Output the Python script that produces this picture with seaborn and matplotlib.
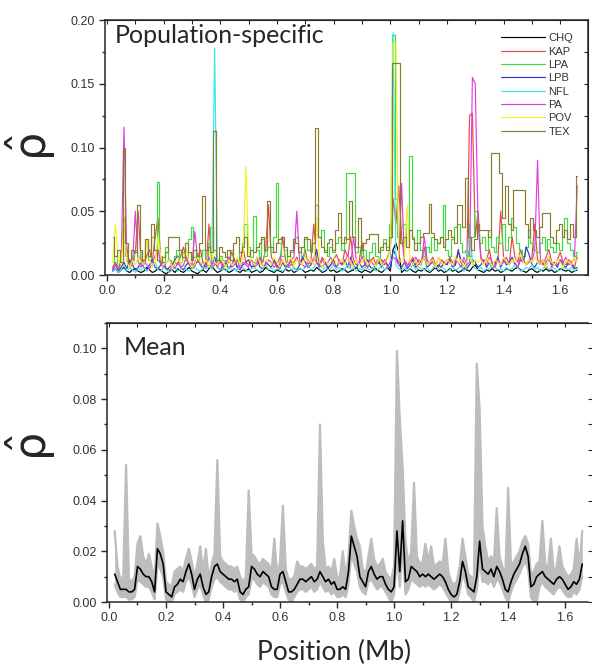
import numpy as np
import pandas as pd
import matplotlib
matplotlib.use("Agg")
import matplotlib.pyplot as plt
import seaborn as sns
from matplotlib.ticker import MultipleLocator, FormatStrFormatter

# positions along the region (Mb), one value every 10 kb
positions = np.round(np.arange(165) * 0.01 + 0.02, 2)

populations = ["CHQ", "KAP", "LPA", "LPB", "NFL", "PA", "POV", "TEX"]
pop_colors = ["#000000", "#e8474a", "#3fdc3f", "#3a3ac8", "#3fe6e6", "#e03fe0", "#f2f21e", "#8b7b2e"]
# populations whose traces look blocky (plateaus) in the figure
stepped = ["LPA", "TEX"]

# population-specific rho in units of 0.001
chq = [3, 5, 2, 4, 6, 3, 2, 4, 5, 3, 2, 3, 6, 4, 2, 3, 5, 4, 2, 1,
       3, 4, 2, 5, 3, 2, 4, 6, 3, 2, 1, 3, 4, 2, 5, 7, 4, 2, 3, 5,
       4, 2, 3, 5, 3, 2, 4, 3, 5, 2, 3, 4, 2, 3, 6, 4, 3, 2, 4, 3,
       2, 5, 3, 4, 2, 3, 5, 4, 2, 3, 4, 3, 6, 4, 2, 3, 5, 3, 4, 2,
       3, 5, 4, 2, 3, 4, 6, 3, 2, 4, 3, 2, 4, 5, 3, 2, 4, 6, 3, 20,
       25, 18, 2, 4, 3, 5, 3, 2, 4, 3, 5, 3, 2, 4, 6, 3, 4, 2, 3, 5,
       3, 4, 2, 3, 5, 4, 3, 6, 8, 4, 3, 2, 4, 3, 5, 3, 4, 2, 3, 5,
       4, 3, 5, 6, 4, 3, 2, 4, 5, 3, 2, 4, 3, 5, 3, 4, 2, 3, 5, 4,
       3, 4, 2, 3, 4]
kap = [6, 10, 4, 14, 45, 22, 8, 10, 18, 50, 12, 8, 15, 20, 10, 30, 45, 12, 8, 5,
       4, 6, 10, 8, 15, 22, 12, 8, 6, 10, 14, 20, 8, 6, 40, 6, 8, 12, 10, 6,
       8, 10, 18, 12, 6, 10, 22, 10, 8, 12, 6, 8, 14, 10, 20, 55, 14, 10, 6, 8,
       30, 12, 6, 8, 10, 14, 8, 12, 20, 8, 12, 40, 10, 8, 14, 10, 6, 8, 12, 16,
       10, 8, 20, 14, 30, 12, 8, 10, 26, 8, 6, 10, 14, 8, 10, 12, 8, 14, 20, 60,
       40, 70, 30, 12, 8, 10, 14, 8, 12, 10, 22, 8, 10, 14, 8, 6, 12, 10, 8, 14,
       10, 8, 18, 12, 10, 6, 125, 127, 30, 50, 14, 10, 12, 20, 8, 10, 12, 50, 14, 10,
       8, 30, 14, 10, 20, 12, 8, 10, 14, 40, 12, 10, 8, 14, 20, 10, 8, 12, 18, 10,
       8, 12, 10, 6, 14]
lpa = [10, 15, 8, 20, 45, 15, 10, 12, 20, 14, 18, 10, 25, 12, 30, 20, 73, 15, 10, 22,
       12, 8, 15, 20, 10, 18, 12, 28, 38, 14, 10, 15, 20, 12, 25, 38, 20, 10, 15, 12,
       8, 14, 20, 10, 12, 18, 25, 40, 22, 14, 46, 20, 12, 28, 15, 22, 18, 30, 72, 25,
       15, 20, 10, 18, 25, 30, 22, 15, 28, 20, 18, 25, 55, 30, 35, 20, 15, 22, 18, 25,
       30, 20, 25, 80, 80, 80, 18, 22, 15, 20, 12, 18, 25, 15, 10, 20, 28, 22, 40, 188,
       60, 30, 25, 40, 22, 93, 30, 25, 35, 20, 15, 22, 18, 30, 20, 25, 30, 55, 20, 15,
       28, 38, 40, 25, 18, 20, 15, 30, 50, 40, 25, 30, 20, 35, 22, 18, 30, 25, 40, 20,
       30, 45, 38, 25, 20, 15, 22, 35, 25, 20, 18, 25, 30, 20, 28, 22, 18, 25, 20, 30,
       45, 25, 20, 15, 18]
lpb = [4, 8, 3, 6, 10, 5, 12, 8, 4, 6, 10, 6, 4, 8, 12, 6, 5, 8, 10, 4,
       6, 8, 12, 15, 6, 4, 8, 10, 5, 7, 12, 8, 5, 10, 6, 8, 14, 6, 4, 8,
       10, 5, 8, 12, 6, 4, 8, 10, 12, 6, 8, 14, 6, 5, 10, 8, 6, 12, 8, 5,
       10, 6, 8, 12, 5, 4, 8, 14, 10, 6, 8, 12, 20, 8, 6, 10, 5, 8, 12, 6,
       10, 8, 12, 6, 14, 8, 5, 10, 6, 8, 12, 6, 5, 8, 10, 6, 12, 8, 5, 20,
       15, 8, 6, 10, 5, 8, 12, 6, 8, 10, 14, 6, 8, 12, 5, 8, 6, 10, 8, 12,
       6, 8, 20, 10, 6, 5, 8, 12, 10, 6, 8, 12, 6, 10, 5, 8, 14, 6, 12, 8,
       10, 14, 8, 6, 12, 10, 22, 16, 8, 6, 10, 8, 12, 6, 14, 8, 10, 6, 12, 8,
       6, 10, 8, 5, 6]
nfl = [3, 5, 2, 4, 8, 3, 6, 4, 2, 5, 4, 6, 3, 5, 8, 10, 4, 3, 6, 4,
       2, 4, 6, 3, 5, 8, 4, 3, 5, 6, 4, 3, 6, 5, 8, 4, 178, 6, 4, 5,
       3, 6, 4, 5, 3, 8, 6, 4, 3, 5, 6, 4, 3, 5, 8, 4, 6, 3, 5, 4,
       3, 5, 8, 4, 6, 3, 5, 4, 6, 8, 4, 6, 10, 5, 3, 6, 4, 5, 8, 4,
       6, 3, 5, 8, 4, 6, 3, 5, 4, 6, 5, 4, 6, 3, 5, 8, 4, 6, 10, 190,
       8, 5, 4, 6, 3, 5, 8, 4, 6, 5, 4, 6, 3, 5, 8, 4, 6, 5, 3, 4,
       6, 4, 5, 8, 3, 6, 40, 10, 5, 4, 6, 3, 5, 4, 8, 6, 4, 5, 3, 6,
       4, 5, 8, 6, 3, 4, 6, 5, 8, 4, 6, 3, 5, 8, 4, 6, 5, 3, 4, 6,
       5, 4, 6, 3, 5]
pa = [5, 8, 4, 10, 116, 12, 6, 8, 50, 10, 6, 12, 8, 5, 10, 15, 20, 8, 6, 10,
      12, 8, 5, 10, 6, 8, 14, 10, 8, 34, 12, 8, 10, 6, 14, 8, 10, 6, 12, 8,
      10, 14, 6, 8, 12, 5, 10, 8, 6, 12, 8, 10, 14, 6, 8, 12, 10, 6, 8, 14,
      10, 8, 6, 12, 14, 50, 10, 8, 6, 12, 8, 14, 10, 6, 12, 8, 10, 14, 8, 6,
      12, 8, 10, 16, 6, 30, 12, 8, 14, 10, 6, 12, 8, 10, 14, 8, 12, 6, 10, 14,
      12, 8, 72, 10, 6, 12, 8, 14, 10, 8, 30, 12, 8, 10, 6, 14, 10, 8, 12, 10,
      8, 12, 10, 6, 14, 8, 10, 155, 150, 40, 12, 10, 8, 14, 10, 6, 12, 8, 10, 14,
      8, 12, 10, 6, 14, 10, 8, 12, 10, 20, 90, 12, 8, 10, 14, 6, 10, 8, 12, 10,
      14, 8, 10, 12, 70]
pov = [10, 40, 12, 8, 45, 10, 6, 12, 8, 14, 10, 8, 28, 12, 6, 10, 30, 14, 8, 10,
       12, 6, 10, 14, 8, 12, 20, 10, 6, 8, 14, 10, 8, 12, 6, 20, 10, 8, 14, 10,
       6, 12, 8, 10, 14, 8, 12, 85, 20, 10, 8, 14, 10, 6, 12, 10, 8, 14, 10, 6,
       12, 8, 10, 14, 6, 12, 10, 8, 14, 10, 12, 8, 45, 10, 6, 12, 8, 10, 14, 8,
       10, 12, 8, 14, 10, 6, 12, 8, 10, 14, 8, 10, 12, 6, 14, 8, 10, 12, 20, 182,
       182, 12, 10, 14, 55, 10, 8, 12, 6, 10, 14, 8, 10, 12, 6, 14, 10, 8, 12, 10,
       8, 14, 10, 12, 6, 10, 14, 8, 12, 10, 12, 8, 14, 10, 6, 12, 10, 8, 14, 10,
       8, 12, 10, 14, 16, 10, 8, 12, 10, 14, 10, 8, 12, 6, 14, 10, 8, 12, 10, 6,
       12, 10, 8, 14, 10]
tex = [30, 15, 20, 10, 100, 25, 12, 20, 18, 55, 20, 12, 28, 15, 40, 20, 12, 10, 14, 18,
       30, 30, 30, 30, 20, 14, 25, 18, 12, 20, 15, 25, 62, 20, 22, 18, 113, 12, 22, 18,
       14, 20, 12, 25, 30, 18, 22, 30, 15, 20, 18, 22, 25, 30, 20, 58, 22, 18, 25, 28,
       30, 22, 15, 20, 28, 25, 18, 22, 30, 28, 20, 25, 115, 30, 22, 18, 25, 28, 20, 35,
       49, 25, 30, 28, 58, 30, 22, 45, 20, 25, 28, 32, 32, 32, 18, 22, 25, 20, 30, 166,
       166, 166, 25, 30, 22, 35, 28, 20, 25, 30, 33, 33, 56, 33, 28, 25, 30, 22, 28, 35,
       30, 25, 55, 55, 38, 76, 30, 20, 28, 40, 35, 35, 35, 30, 96, 96, 96, 80, 45, 70,
       40, 35, 67, 67, 67, 67, 40, 30, 45, 35, 30, 38, 49, 49, 49, 30, 25, 35, 40, 30,
       35, 28, 40, 30, 78]

# mean over populations with its grey band (units of 0.001)
mean_rho = [11, 8, 5, 5, 5, 4, 4, 5, 14, 13, 11, 10, 10, 8, 4, 21, 19, 15, 4, 3,
            2, 6, 7, 9, 8, 12, 15, 11, 5, 9, 11, 6, 3, 4, 10, 14, 15, 12, 11, 10,
            9, 9, 8, 9, 4, 3, 5, 6, 14, 13, 11, 10, 12, 11, 10, 6, 5, 5, 11, 12,
            8, 4, 4, 5, 7, 9, 9, 8, 9, 10, 8, 9, 12, 10, 8, 9, 7, 8, 5, 5,
            6, 5, 12, 26, 22, 18, 10, 8, 6, 12, 14, 11, 9, 10, 10, 7, 5, 4, 6, 28,
            12, 32, 8, 9, 14, 13, 12, 10, 11, 10, 11, 10, 9, 10, 11, 10, 8, 5, 3, 2,
            3, 8, 16, 12, 6, 5, 4, 10, 24, 13, 12, 11, 13, 10, 14, 12, 9, 5, 4, 8,
            11, 13, 15, 19, 22, 18, 6, 7, 10, 11, 12, 10, 9, 8, 7, 9, 10, 9, 7, 5,
            6, 8, 7, 9, 15]
lower_rho = [7, 4, 2, 2, 2, 1, 1, 2, 9, 8, 7, 6, 6, 4, 1, 15, 13, 10, 1, 0,
             0, 3, 4, 5, 4, 8, 10, 7, 2, 5, 7, 3, 0, 1, 6, 9, 10, 8, 7, 6,
             5, 5, 4, 5, 1, 0, 2, 3, 9, 9, 7, 6, 8, 7, 6, 3, 2, 2, 7, 8,
             4, 1, 0, 2, 4, 5, 5, 4, 5, 6, 4, 5, 8, 6, 4, 5, 3, 4, 2, 2,
             3, 2, 7, 19, 15, 12, 6, 4, 3, 8, 9, 7, 5, 6, 6, 4, 2, 0, 3, 18,
             6, 22, 3, 5, 9, 8, 7, 6, 7, 6, 7, 6, 5, 6, 7, 6, 4, 2, 0, 0,
             0, 4, 11, 8, 3, 2, 0, 5, 16, 8, 8, 7, 9, 6, 9, 8, 5, 2, 0, 4,
             7, 9, 11, 14, 16, 13, 2, 0, 0, 6, 8, 6, 5, 4, 3, 5, 6, 5, 3, 2,
             2, 4, 3, 5, 10]
upper_rho = [28, 14, 9, 10, 54, 9, 8, 10, 23, 26, 18, 15, 19, 14, 9, 31, 26, 20, 8, 7,
             6, 12, 13, 14, 12, 17, 21, 16, 10, 15, 22, 12, 21, 9, 15, 19, 56, 18, 16, 15,
             14, 14, 13, 14, 10, 8, 10, 44, 19, 18, 16, 15, 17, 16, 15, 12, 25, 10, 16, 38,
             13, 9, 9, 10, 16, 14, 14, 13, 14, 15, 13, 14, 70, 24, 13, 14, 12, 17, 10, 10,
             20, 10, 18, 36, 30, 25, 22, 13, 11, 18, 25, 17, 14, 15, 17, 12, 10, 9, 14, 99,
             72, 53, 24, 15, 20, 47, 18, 15, 16, 23, 16, 22, 14, 15, 16, 15, 25, 12, 8, 7,
             8, 14, 25, 18, 11, 10, 9, 94, 76, 30, 22, 16, 18, 16, 37, 18, 14, 10, 45, 14,
             16, 18, 20, 24, 26, 23, 11, 12, 15, 16, 32, 15, 14, 25, 12, 14, 22, 14, 12, 10,
             11, 13, 25, 14, 28]

series = [chq, kap, lpa, lpb, nfl, pa, pov, tex]
df = pd.concat(
    [pd.DataFrame({"pos": positions, "rho": np.array(vals) / 1000.0, "pop": name})
     for name, vals in zip(populations, series)],
    ignore_index=True,
)
mean_arr = np.array(mean_rho) / 1000.0
lower_arr = np.array(lower_rho) / 1000.0
upper_arr = np.array(upper_rho) / 1000.0

sns.set_style("ticks")
plt.rcParams["font.family"] = ["Liberation Sans", "DejaVu Sans"]
plt.rcParams["mathtext.fontset"] = "dejavusans"

fig = plt.figure(figsize=(5.92, 6.69), dpi=100)
ax1 = fig.add_axes([0.1774, 0.5889, 0.8158, 0.3812])
ax2 = fig.add_axes([0.1807, 0.1001, 0.8125, 0.4171])

tick_color = "#333333"
title_font = ["Lato", "DejaVu Sans"]
rho_label = r"$\hat{\mathrm{\rho}}$"

# --- top: population-specific ---
for name, color in zip(populations, pop_colors):
    sub = df[df["pop"] == name]
    sns.lineplot(data=sub, x="pos", y="rho", color=color, label=name,
                 estimator=None, linewidth=0.85,
                 drawstyle="steps-mid" if name in stepped else "default", ax=ax1)
ax1.set_xlim(-0.007, 1.698)
ax1.set_ylim(0, 0.20)
ax1.xaxis.set_major_locator(MultipleLocator(0.2))
ax1.xaxis.set_minor_locator(MultipleLocator(0.1))
ax1.yaxis.set_major_locator(MultipleLocator(0.05))
ax1.yaxis.set_minor_locator(MultipleLocator(0.025))
ax1.tick_params(axis="both", which="both", direction="out", top=False, right=False,
                labelsize=9, labelcolor=tick_color, width=1)
ax1.tick_params(which="major", length=4)
ax1.tick_params(which="minor", length=2.5)
for side in ["top", "right", "bottom", "left"]:
    ax1.spines[side].set_visible(True)
    ax1.spines[side].set_linewidth(1.1)
sec_top = ax1.secondary_xaxis("top")
sec_top.xaxis.set_major_locator(MultipleLocator(0.1))
sec_top.tick_params(direction="in", length=3, labeltop=False)
sec_right = ax1.secondary_yaxis("right")
sec_right.yaxis.set_major_locator(MultipleLocator(0.025))
sec_right.tick_params(direction="in", length=3, labelright=False)
ax1.yaxis.set_major_formatter(FormatStrFormatter("%.2f"))
ax1.xaxis.set_major_formatter(FormatStrFormatter("%.1f"))
ax1.set_xlabel("")
ax1.set_ylabel(rho_label, fontsize=32, rotation=90)
ax1.yaxis.set_label_coords(-0.097, 0.5)
ax1.text(0.02, 0.985, "Population-specific", transform=ax1.transAxes,
         fontsize=18, va="top", ha="left", family=title_font)
handles, labels = ax1.get_legend_handles_labels()
ax1.legend(handles, labels, loc="upper left", bbox_to_anchor=(0.81, 0.965),
           frameon=False, fontsize=8, handlelength=4.0, handletextpad=0.3,
           labelspacing=0.3, borderaxespad=0)
for text in ax1.get_legend().get_texts():
    text.set_color(tick_color)

# --- bottom: mean ---
ax2.fill_between(positions, lower_arr, upper_arr, color="#bdbdbd", lw=0)
sns.lineplot(x=positions, y=upper_arr, color="#bdbdbd", linewidth=1.6, ax=ax2)
sns.lineplot(x=positions, y=lower_arr, color="#bdbdbd", linewidth=1.6, ax=ax2)
sns.lineplot(x=positions, y=mean_arr, color="black", linewidth=1.2, ax=ax2)
ax2.set_xlim(-0.007, 1.68)
ax2.set_ylim(0, 0.11)
ax2.xaxis.set_major_locator(MultipleLocator(0.2))
ax2.xaxis.set_minor_locator(MultipleLocator(0.1))
ax2.yaxis.set_major_locator(MultipleLocator(0.02))
ax2.yaxis.set_minor_locator(MultipleLocator(0.01))
ax2.tick_params(axis="both", which="both", direction="out", labelsize=9,
                labelcolor=tick_color, width=1)
ax2.tick_params(which="major", length=4)
ax2.tick_params(which="minor", length=2.5)
ax2.spines["right"].set_visible(False)
ax2.spines["top"].set_visible(True)
for side in ["top", "bottom", "left"]:
    ax2.spines[side].set_linewidth(1.1)
sec_top2 = ax2.secondary_xaxis("top")
sec_top2.xaxis.set_major_locator(MultipleLocator(0.1))
sec_top2.tick_params(direction="in", length=3, labeltop=False)
sec_right2 = ax2.secondary_yaxis("right")
sec_right2.yaxis.set_major_locator(MultipleLocator(0.01))
sec_right2.spines["right"].set_visible(False)
sec_right2.tick_params(direction="out", length=3, labelright=False)
ax2.yaxis.set_major_formatter(FormatStrFormatter("%.2f"))
ax2.xaxis.set_major_formatter(FormatStrFormatter("%.1f"))
ax2.set_ylabel(rho_label, fontsize=32, rotation=90)
ax2.yaxis.set_label_coords(-0.102, 0.555)
ax2.set_xlabel("Position (Mb)", fontsize=19, family=title_font)
ax2.xaxis.set_label_coords(0.472, -0.135)
ax2.text(0.035, 0.955, "Mean", transform=ax2.transAxes,
         fontsize=18, va="top", ha="left", family=title_font)

fig.savefig("out.png", dpi=100)
